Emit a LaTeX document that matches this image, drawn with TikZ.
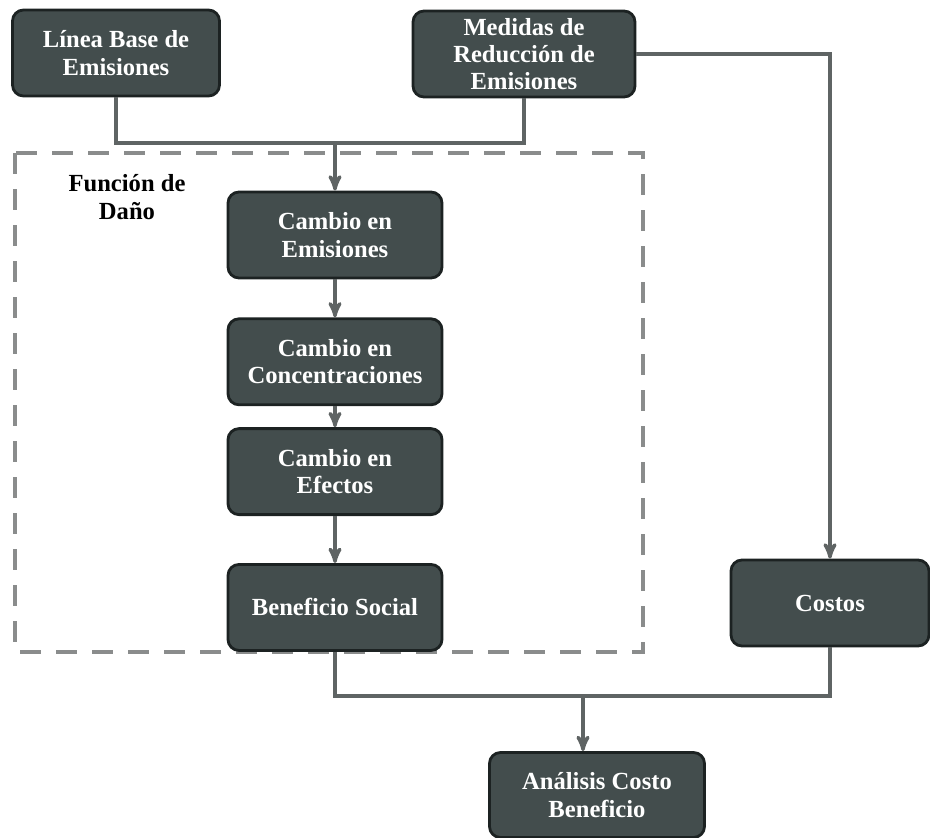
\documentclass[tikz,border=0pt]{standalone}
\usepackage{fontspec}
\setmainfont{Liberation Serif}
\usepackage{tikz}
\usetikzlibrary{positioning, arrows}
\usepackage{xcolor}
\definecolor{boxfill}{HTML}{434D4D}
\definecolor{boxedge}{HTML}{1C2222}
\definecolor{linecol}{HTML}{5F6464}
\definecolor{dashcol}{HTML}{8A8C8C}
\tikzstyle{box} = [rectangle, rounded corners=0.22cm, draw=boxedge, line width=1.6pt, fill=boxfill, text=white, font=\bfseries\fontsize{14}{15.5}\selectfont, align=center, minimum height=1.72cm, inner sep=0pt]
\tikzstyle{conn} = [draw=linecol, line width=1.9pt]
\tikzstyle{arrow} = [conn,->,>=stealth']
\tikzstyle{frame} = [draw=dashcol, line width=2pt, dash pattern=on 0.42cm off 0.3cm]

\begin{document}
\begin{tikzpicture}[x=0.2mm, y=-0.2mm]
        \useasboundingbox (0,0) rectangle (930,838);
        \draw[frame] (15,153) rectangle (643,652);
        \node[font=\bfseries\fontsize{14}{15.5}\selectfont, align=center] (dano) at (127,197) {Función de\\Daño};
        \node[box, minimum width=4.14cm] (linea) at (116,53) {Línea Base de\\Emisiones};
        \node[box, minimum width=4.44cm] (medidas) at (524,54) {Medidas de\\Reducción de\\Emisiones};
        \node[box, minimum width=4.28cm] (emisiones) at (335,235) {Cambio en\\Emisiones};
        \node[box, minimum width=4.28cm, below=0.76cm of emisiones] (concentr) {Cambio en\\Concentraciones};
        \node[box, minimum width=4.28cm, below=0.42cm of concentr] (efectos) {Cambio en\\Efectos};
        \node[box, minimum width=4.28cm, below=0.94cm of efectos] (beneficio) {Beneficio Social};
        \node[box, minimum width=3.96cm] (costos) at (830,603) {Costos};
        \node[box, minimum width=4.3cm, minimum height=1.7cm] (analisis) at (597,795) {Análisis Costo\\Beneficio};
        \coordinate (joinA) at (335,143);
        \coordinate (joinB) at (583,696);
        \draw[conn] (linea.south) |- (joinA) -| (medidas.south);
        \draw[arrow] (joinA) -- (emisiones);
        \draw[arrow] (emisiones) -- (concentr);
        \draw[arrow] (concentr) -- (efectos);
        \draw[arrow] (efectos) -- (beneficio);
        \draw[arrow] (medidas.east) -| (costos.north);
        \draw[conn] (beneficio.south) |- (joinB) -| (costos.south);
        \draw[arrow] (joinB) -- (joinB |- analisis.north);
    \end{tikzpicture}
\end{document}
